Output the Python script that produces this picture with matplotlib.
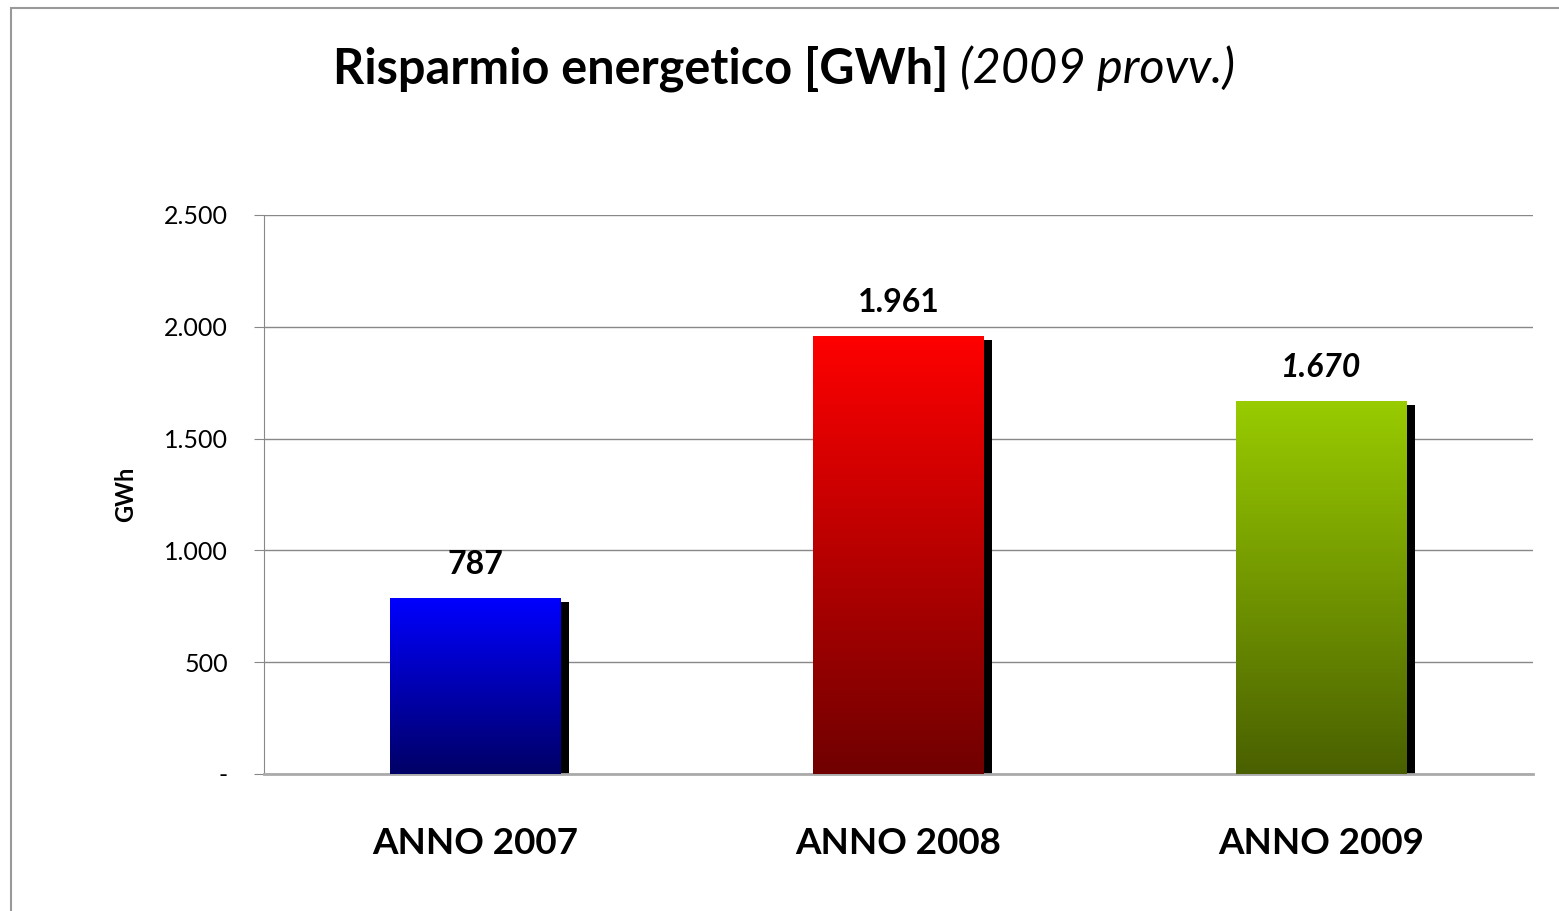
import numpy as np
import matplotlib
matplotlib.use('Agg')
import matplotlib.pyplot as plt
from matplotlib.colors import LinearSegmentedColormap
from matplotlib.patches import Rectangle
from matplotlib.ticker import FuncFormatter

plt.rcParams['font.family'] = ['Lato', 'DejaVu Sans']

# dati
anni = ['ANNO 2007', 'ANNO 2008', 'ANNO 2009']
valori = [787, 1961, 1670]
etichette = ['787', '1.961', '1.670']
corsivo = [False, False, True]
# colori gradiente (alto, basso)
col_alto = ['#0000ff', '#ff0000', '#99cc00']
col_basso = ['#000066', '#700000', '#4a6000']

fig = plt.figure(figsize=(15.59, 9.11), dpi=100)
ax = fig.add_axes([0.1693, 0.1504, 0.814, 0.6136])

# cornice
fig.patches.append(Rectangle((11 / 1559, -0.1), 1.2, 1 - 8 / 911 + 0.1,
                             transform=fig.transFigure, fill=False,
                             edgecolor='#999999', lw=1.5))

x = np.arange(len(anni))
w = 0.404
dx = 8 / 1269 * 3   # ombra a destra
dy = 4 / 559 * 2500  # ombra in basso

ax.set_xlim(-0.5, 2.5)
ax.set_ylim(0, 2500)

ombre = ax.bar(x + dx, np.array(valori) - dy, w, color='black', zorder=2)
barre = ax.bar(x, valori, w, color='none', zorder=3)

grad = np.linspace(1, 0, 256).reshape(-1, 1)
for i, b in enumerate(barre):
    cmap = LinearSegmentedColormap.from_list('g%d' % i, [col_basso[i], col_alto[i]])
    bx, by = b.get_x(), b.get_y()
    im = ax.imshow(grad, cmap=cmap, aspect='auto', zorder=3,
                   extent=[bx, bx + b.get_width(), by, by + b.get_height()])
    im.set_clip_path(b)
    ax.annotate(etichette[i], (x[i], valori[i]), xytext=(0, 24),
                textcoords='offset points', ha='center', va='center',
                fontsize=23, fontweight='bold',
                style='italic' if corsivo[i] else 'normal')

ax.set_xlim(-0.5, 2.5)
ax.set_ylim(0, 2500)

ax.set_yticks([0, 500, 1000, 1500, 2000, 2500])
ax.yaxis.set_major_formatter(FuncFormatter(
    lambda v, p: '-' if v == 0 else '{:,.0f}'.format(v).replace(',', '.')))
ax.tick_params(axis='y', length=7, color='#888888', labelsize=18, pad=19)
ax.set_xticks(x)
ax.set_xticklabels(anni, fontsize=26.5, fontweight='bold')
ax.tick_params(axis='x', length=0, pad=38)

ax.grid(axis='y', color='#888888', lw=1, zorder=0)
ax.set_axisbelow(True)
for s in ['top', 'right']:
    ax.spines[s].set_visible(False)
ax.spines['left'].set_color('#888888')
ax.spines['bottom'].set_color('#aaaaaa')
ax.spines['bottom'].set_linewidth(2)

ax.set_ylabel('GWh', fontsize=17, fontweight='bold')
ax.yaxis.set_label_coords(-0.1, 0.5)

fig.text(0.616, 0.925, r'Risparmio energetico [GWh] ', ha='right', va='center',
         fontsize=35, fontweight='bold')
fig.text(0.616, 0.925, '(2009 provv.)', ha='left', va='center',
         fontsize=35, style='italic')

fig.savefig('out.png', dpi=100)
